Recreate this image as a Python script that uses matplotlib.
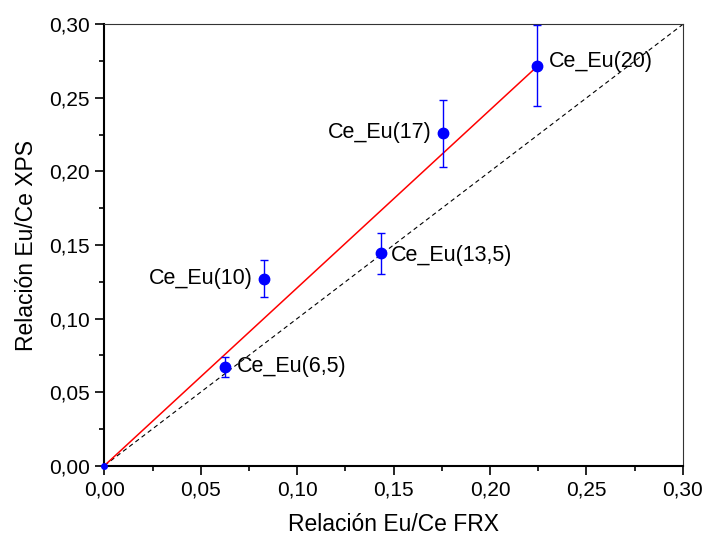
import numpy as np
import matplotlib.pyplot as plt
from matplotlib.ticker import FuncFormatter, MultipleLocator

plt.rcParams['font.family'] = ['Liberation Sans', 'DejaVu Sans']

# muestras: relacion Eu/Ce por FRX (x) y por XPS (y)
samples = ["Ce_Eu(6,5)", "Ce_Eu(10)", "Ce_Eu(13,5)", "Ce_Eu(17)", "Ce_Eu(20)"]
frx = [0.0625, 0.0828, 0.1435, 0.1755, 0.2246]
xps = [0.0672, 0.1269, 0.1443, 0.2260, 0.2720]
xps_err = [0.0067, 0.0126, 0.0142, 0.0227, 0.0276]

# ajuste lineal (rojo) y linea 1:1 (discontinua)
fit_x = [0.0, 0.2246]
fit_y = [0.0, 0.2716]
ident = [0.0, 0.30]

fig = plt.figure(figsize=(7.06, 5.37), dpi=100)
ax = fig.add_axes([0.148, 0.1331, 0.819, 0.8213])

ax.plot(ident, ident, color='black', ls=(0, (4, 3)), lw=0.8)
ax.plot(fit_x, fit_y, color='red', lw=1.1)
ax.errorbar(frx, xps, yerr=xps_err, fmt='o', color='blue', ms=7.5,
            ecolor='blue', elinewidth=1, capsize=3.2, capthick=1, zorder=3)
ax.plot([0.0], [0.0], 'o', color='blue', ms=4, clip_on=False, zorder=4)

# etiquetas de cada muestra
fs = 15.5
ax.text(frx[0] + 0.0060, xps[0], samples[0], va='center', ha='left', fontsize=fs)
ax.text(frx[1] - 0.0058, xps[1], samples[1], va='center', ha='right', fontsize=fs)
ax.text(frx[2] + 0.0050, xps[2] - 0.0015, samples[2], va='center', ha='left', fontsize=fs)
ax.text(frx[3] - 0.0058, xps[3] + 0.0005, samples[3], va='center', ha='right', fontsize=fs)
ax.text(frx[4] + 0.0060, xps[4] + 0.0030, samples[4], va='center', ha='left', fontsize=fs)

ax.set_xlim(0, 0.30)
ax.set_ylim(0, 0.30)
ax.xaxis.set_major_locator(MultipleLocator(0.05))
ax.yaxis.set_major_locator(MultipleLocator(0.05))
ax.xaxis.set_minor_locator(MultipleLocator(0.025))
ax.yaxis.set_minor_locator(MultipleLocator(0.025))
fmt = FuncFormatter(lambda v, p: f"{v:.2f}".replace('.', ','))
ax.xaxis.set_major_formatter(fmt)
ax.yaxis.set_major_formatter(fmt)

ax.tick_params(which='both', direction='out', top=False, right=False,
               width=1.2, labelsize=15, colors='black')
ax.tick_params(which='major', length=6.5, pad=4)
ax.tick_params(which='minor', length=3.6)

ax.spines['left'].set_linewidth(1.5)
ax.spines['bottom'].set_linewidth(1.5)
ax.spines['top'].set_linewidth(0.8)
ax.spines['right'].set_linewidth(0.8)
ax.spines['top'].set_color('#333333')
ax.spines['right'].set_color('#333333')

ax.set_xlabel("Relación Eu/Ce FRX", fontsize=16.5, labelpad=10)
ax.set_ylabel("Relación Eu/Ce XPS", fontsize=16.5, labelpad=8)

fig.savefig("out.png", dpi=100)
